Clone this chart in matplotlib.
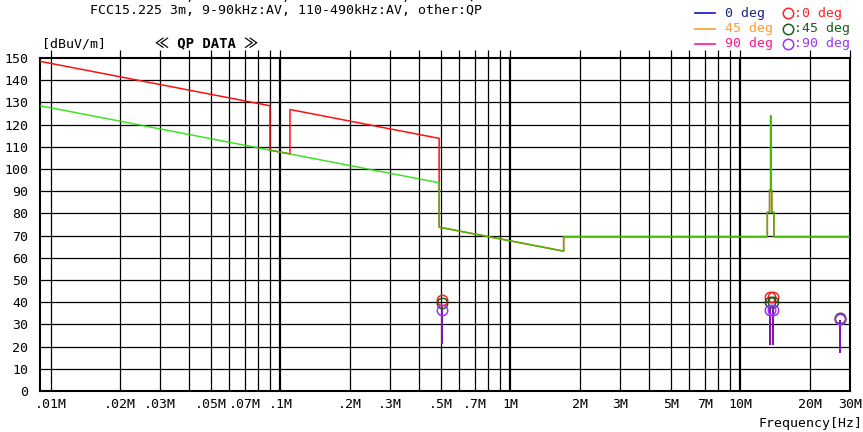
import matplotlib
matplotlib.use("Agg")
import matplotlib.pyplot as plt
from matplotlib.lines import Line2D
import numpy as np

plt.rcParams['font.family'] = ['DejaVu Sans Mono', 'Noto Sans CJK JP']
FS = 9.5

# limit lines (MHz, dBuV/m)
qp_lim_f = [0.009, 0.09, 0.09, 0.11, 0.11, 0.49, 0.49, 1.705, 1.705, 13.11, 13.11, 13.41, 13.41,
            13.553, 13.553, 13.567, 13.567, 13.71, 13.71, 14.01, 14.01, 30.0]
qp_lim_v = [148.5, 128.5, 108.5, 106.8, 126.8, 113.8, 73.8, 63.0, 69.5, 69.5, 80.5, 80.5, 90.5,
            90.5, 124.0, 124.0, 90.5, 90.5, 80.5, 80.5, 69.5, 69.5]
av_lim_f = [0.009, 0.49, 0.49, 1.705, 1.705, 13.11, 13.11, 13.41, 13.41,
            13.553, 13.553, 13.567, 13.567, 13.71, 13.71, 14.01, 14.01, 30.0]
av_lim_v = [128.5, 93.8, 73.8, 63.0, 69.5, 69.5, 80.5, 80.5, 90.5,
            90.5, 124.0, 124.0, 90.5, 90.5, 80.5, 80.5, 69.5, 69.5]

# spectrum spikes per antenna angle (MHz, bottom, top)
spike_f = [0.502, 13.47, 13.90, 27.12]
spike_lo = [21.0, 20.5, 20.5, 17.0]
spike_0 = [38.5, 38.0, 38.0, 32.0]
spike_45 = [38.0, 37.5, 37.5, 31.5]
spike_90 = [38.5, 38.0, 38.0, 32.0]

# quasi-peak results
qp_f = [0.502, 13.47, 13.90, 27.12]
qp_0 = [40.8, 42.4, 42.4, 32.6]
qp_45 = [39.5, 40.2, 40.2, 33.0]
qp_90 = [36.6, 36.5, 36.5, 32.6]

xtick_vals = [0.01, 0.02, 0.03, 0.05, 0.07, 0.1, 0.2, 0.3, 0.5, 0.7, 1, 2, 3, 5, 7, 10, 20, 30]
xtick_labels = ['.01M', '.02M', '.03M', '.05M', '.07M', '.1M', '.2M', '.3M', '.5M', '.7M',
                '1M', '2M', '3M', '5M', '7M', '10M', '20M', '30M']
yticks = list(range(0, 151, 10))

fig = plt.figure(figsize=(8.63, 4.32), dpi=100)
ax = fig.add_axes([40/863, 1-391/432, 810/863, 333/432])
ax.set_xscale('log')
ax.set_xlim(0.009, 30)
ax.set_ylim(0, 150)

# grid
grid_f = []
for dec in [0.01, 0.1, 1, 10]:
    for m in range(1, 10):
        if dec*m <= 30:
            grid_f.append(dec*m)
for f in grid_f:
    lw = 1.6 if f in (0.1, 1, 10) else 0.9
    ax.axvline(f, color='black', lw=lw, zorder=1)
for y in yticks[1:-1]:
    ax.axhline(y, color='black', lw=0.9, zorder=1)

ax.plot(qp_lim_f, qp_lim_v, color='#ff1010', lw=1.1, zorder=3)
ax.plot(av_lim_f, av_lim_v, color='#22dd00', lw=1.1, zorder=4, alpha=0.85)

ax.vlines(spike_f, spike_lo, spike_45, color='#ff9933', lw=1.4, zorder=5)
ax.vlines(spike_f, spike_lo, spike_0, color='#1010cc', lw=1.4, zorder=6)
ax.vlines(spike_f, spike_lo, spike_90, color='#ff1493', lw=1.4, zorder=7, alpha=0.5)

mk = dict(ls='none', marker='o', ms=7.5, mfc='none', mew=1.1)
ax.plot(qp_f, qp_0, mec='#ff2020', zorder=8, **mk)
ax.plot(qp_f, qp_45, mec='#1a5c1a', zorder=9, **mk)
ax.plot(qp_f, qp_90, mec='#9933ff', zorder=10, **mk)

ax.set_xticks(xtick_vals)
ax.set_xticklabels(xtick_labels)
ax.xaxis.set_minor_locator(matplotlib.ticker.FixedLocator(grid_f))
ax.xaxis.set_minor_formatter(matplotlib.ticker.NullFormatter())
ax.set_yticks(yticks)
ax.tick_params(axis='x', which='both', top=True, bottom=False, direction='out', length=6,
               width=0.9, labelsize=FS, pad=-1)
ax.tick_params(axis='y', left=False, labelsize=FS, pad=5)
for s in ax.spines.values():
    s.set_linewidth(1.5)

fig.text(22/863, 1-(-4)/432, 'LIMIT :', fontsize=FS, va='center')
fig.text(90/863, 1-(-4)/432, 'FCC15.225 3m, 9-90kHz:PK, 110-490kHz:PK, other:QP', fontsize=FS, va='center')
fig.text(90/863, 1-10/432, 'FCC15.225 3m, 9-90kHz:AV, 110-490kHz:AV, other:QP', fontsize=FS, va='center')
fig.text(42/863, 1-44/432, '[dBuV/m]', fontsize=FS, va='center')
fig.text(155/863, 1-44/432, '≪ QP DATA ≫', fontsize=FS + 0.5, va='center', fontweight='bold')
fig.text(862/863, 1-424/432, 'Frequency[Hz]', fontsize=FS, va='center', ha='right')

# legend drawn in figure space
leg_lines = [('0 deg', '#1010cc', '#202080'), ('45 deg', '#ff9933', '#ff9933'), ('90 deg', '#ff1493', '#ff1493')]
leg_marks = [(':0 deg', '#ff2020'), (':45 deg', '#1a5c1a'), (':90 deg', '#9933ff')]
for i, (lab, lc, tc) in enumerate(leg_lines):
    yy = 1 - (13 + 15.5*i)/432
    fig.add_artist(Line2D([695/863, 715/863], [yy, yy], color=lc, lw=1.2))
    fig.text(725/863, yy, lab, fontsize=FS, color=tc, va='center')
    ml, mc = leg_marks[i]
    fig.add_artist(Line2D([788/863], [yy], marker='o', ms=7.5, mfc='none', mec=mc, mew=1.1))
    fig.text(794/863, yy, ml, fontsize=FS, color=mc, va='center')

fig.savefig('out.png', dpi=100)
